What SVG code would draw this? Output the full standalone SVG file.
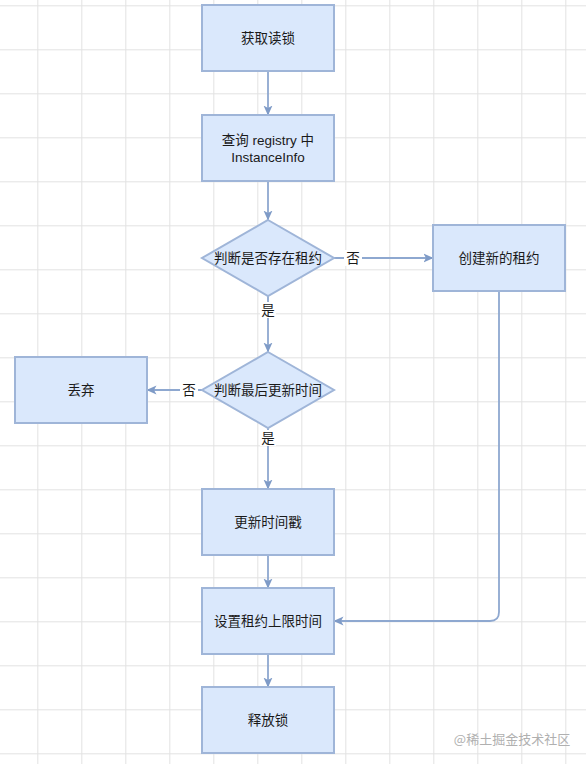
<svg xmlns="http://www.w3.org/2000/svg" width="586" height="764" viewBox="0 0 586 764">
<defs>
<pattern id="grid" x="37.3" y="5.3" width="44" height="44" patternUnits="userSpaceOnUse">
<path d="M0 0.5H44M0.5 0V44" fill="none" stroke="#e2e2e2" stroke-width="1"/>
</pattern>
<marker id="arr" viewBox="0 0 10 10" refX="9.5" refY="5" markerWidth="10" markerHeight="10" markerUnits="userSpaceOnUse" orient="auto">
<path d="M0 0.5L10 5L0 9.5L2.5 5Z" fill="#7f9bc7"/>
</marker>
<style>
.box{fill:#dae8fc;stroke:#9fb5d8;stroke-width:2}
.t{font-family:"Liberation Sans","Noto Sans CJK SC",sans-serif;font-size:13.5px;fill:#1a1a1a;text-anchor:middle;dominant-baseline:central}
.e{fill:none;stroke:#8ea8d0;stroke-width:1.8;marker-end:url(#arr)}
.lb{fill:#ffffff}
</style>
</defs>
<rect width="586" height="764" fill="#ffffff"/>
<rect width="586" height="764" fill="url(#grid)"/>
<g id="edges">
<path class="e" d="M268 71V115"/>
<path class="e" d="M268 181V220"/>
<path class="e" d="M334 258H433"/>
<path class="e" d="M268 296V352"/>
<path class="e" d="M202 390H147"/>
<path class="e" d="M268 428V489"/>
<path class="e" d="M499 291V612Q499 621 490 621H334"/>
<path class="e" d="M268 555V588"/>
<path class="e" d="M268 654V687"/>
<rect class="lb" x="344" y="250" width="18" height="16"/>
<text class="t" x="353" y="258">否</text>
<rect class="lb" x="260" y="302" width="16" height="16"/>
<text class="t" x="268" y="310">是</text>
<rect class="lb" x="180" y="382" width="18" height="16"/>
<text class="t" x="189" y="390">否</text>
<rect class="lb" x="260" y="430" width="16" height="16"/>
<text class="t" x="268" y="438">是</text>
</g>
<g id="n1"><rect class="box" x="202" y="5" width="132" height="66"/><text class="t" x="268" y="38">获取读锁</text></g>
<g id="n2"><rect class="box" x="202" y="115" width="132" height="66"/><text class="t" x="268" y="140">查询 registry 中</text><text class="t" x="268" y="157">InstanceInfo</text></g>
<g id="d1"><path class="box" d="M268 220L334 258L268 296L202 258Z"/><text class="t" x="268" y="258">判断是否存在租约</text></g>
<g id="n3"><rect class="box" x="433" y="225" width="132" height="66"/><text class="t" x="499" y="258">创建新的租约</text></g>
<g id="d2"><path class="box" d="M268 352L334 390L268 428L202 390Z"/><text class="t" x="268" y="390">判断最后更新时间</text></g>
<g id="n4"><rect class="box" x="15" y="357" width="132" height="66"/><text class="t" x="81" y="390">丢弃</text></g>
<g id="n5"><rect class="box" x="202" y="489" width="132" height="66"/><text class="t" x="268" y="522">更新时间戳</text></g>
<g id="n6"><rect class="box" x="202" y="588" width="132" height="66"/><text class="t" x="268" y="621">设置租约上限时间</text></g>
<g id="n7"><rect class="box" x="202" y="687" width="132" height="66"/><text class="t" x="268" y="720">释放锁</text></g>
<text x="512" y="738" font-family="'Noto Sans CJK SC',sans-serif" font-size="13px" fill="#b0b0b0" text-anchor="middle" dominant-baseline="central">@稀土掘金技术社区</text>
</svg>
